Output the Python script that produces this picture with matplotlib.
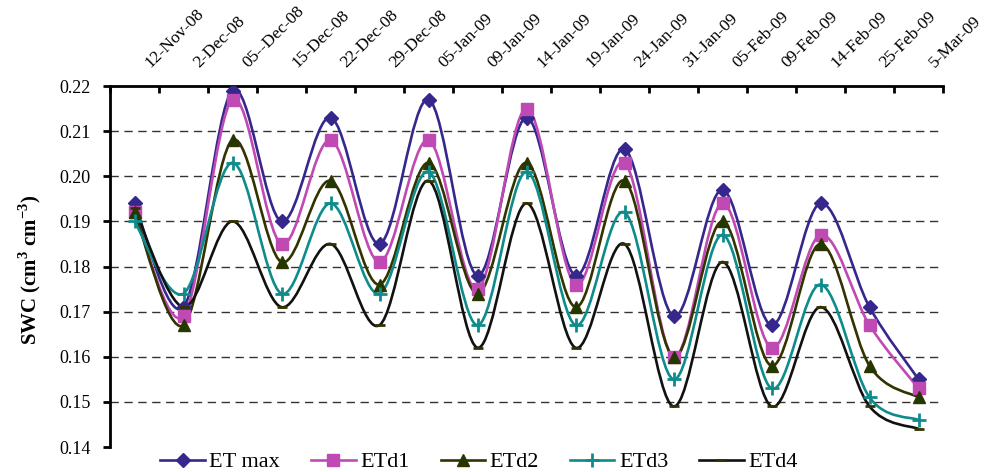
#!/usr/bin/env python3

import numpy as np
import matplotlib
matplotlib.use("Agg")
import matplotlib.pyplot as plt
from matplotlib.path import Path
from matplotlib.patches import PathPatch
from matplotlib.lines import Line2D
from matplotlib.transforms import ScaledTranslation

plt.rcParams['font.family'] = ['Liberation Serif', 'DejaVu Serif']
plt.rcParams['mathtext.fontset'] = 'custom'
plt.rcParams['mathtext.rm'] = 'Liberation Serif:bold'
plt.rcParams['mathtext.bf'] = 'Liberation Serif:bold'

dates = ["12-Nov-08", "2-Dec-08", "05--Dec-08", "15-Dec-08", "22-Dec-08",
         "29-Dec-08", "05-Jan-09", "09-Jan-09", "14-Jan-09", "19-Jan-09",
         "24-Jan-09", "31-Jan-09", "05-Feb-09", "09-Feb-09", "14-Feb-09",
         "25-Feb-09", "5-Mar-09"]

et_max = [0.194, 0.171, 0.219, 0.190, 0.213, 0.185, 0.217, 0.178, 0.213,
          0.178, 0.206, 0.169, 0.197, 0.167, 0.194, 0.171, 0.155]
etd1 = [0.192, 0.169, 0.217, 0.185, 0.208, 0.181, 0.208, 0.175, 0.215,
        0.176, 0.203, 0.160, 0.194, 0.162, 0.187, 0.167, 0.153]
etd2 = [0.192, 0.167, 0.208, 0.181, 0.199, 0.176, 0.203, 0.174, 0.203,
        0.171, 0.199, 0.160, 0.190, 0.158, 0.185, 0.158, 0.151]
etd3 = [0.190, 0.174, 0.203, 0.174, 0.194, 0.174, 0.201, 0.167, 0.201,
        0.167, 0.192, 0.155, 0.187, 0.153, 0.176, 0.151, 0.146]
etd4 = [0.193, 0.171, 0.190, 0.171, 0.185, 0.167, 0.199, 0.162, 0.194,
        0.162, 0.185, 0.149, 0.181, 0.149, 0.171, 0.149, 0.144]

names = ["ET max", "ETd1", "ETd2", "ETd3", "ETd4"]


def smooth_path(x, y):
    # Catmull-Rom style bezier, like Excel's smoothed lines
    pts = np.column_stack([x, y])
    n = len(pts)
    verts = [pts[0]]
    codes = [Path.MOVETO]
    for i in range(n - 1):
        p0 = pts[max(i - 1, 0)]
        p1 = pts[i]
        p2 = pts[i + 1]
        p3 = pts[min(i + 2, n - 1)]
        c1 = p1 + (p2 - p0) / 6.0
        c2 = p2 - (p3 - p1) / 6.0
        verts += [c1, c2, p2]
        codes += [Path.CURVE4] * 3
    return Path(verts, codes)


def main():
    fig = plt.figure(figsize=(9.93, 4.72), dpi=100)
    ax = fig.add_axes([110 / 993, 25 / 472, 833 / 993, 361 / 472])

    x = np.arange(len(dates))
    series = [et_max, etd1, etd2, etd3, etd4]
    colors = ["#35278C", "#C04AB4", "#333300", "#0E8C8C", "#111111"]
    markers = ["D", "s", "^", "+", "_"]
    msizes = [7, 8, 9, 10, 7]
    mfc = ["#35278C", "#C04AB4", "#1E3A00", "#0E8C8C", "#333300"]
    mec = ["#35278C", "#C04AB4", "#333300", "#0E8C8C", "#333300"]

    for s, c, m, ms, fc, ec in zip(series, colors, markers, msizes, mfc, mec):
        ax.add_patch(PathPatch(smooth_path(x, s), fill=False, edgecolor=c,
                               lw=1.9, zorder=3))
        ax.plot(x, s, linestyle='none', marker=m, ms=ms, mfc=fc, mec=ec,
                mew=2 if m in "+_" else 1, zorder=4)

    ax.set_xlim(-0.5, len(dates) - 0.5)
    ax.set_ylim(0.14, 0.22)

    # grid
    for g in [0.15, 0.16, 0.17, 0.18, 0.19, 0.20, 0.21]:
        ax.axhline(g, color="#333333", lw=1.0, dashes=(6, 4), zorder=1)

    ax.spines['right'].set_visible(False)
    ax.spines['bottom'].set_visible(False)
    ax.spines['left'].set_linewidth(2)
    ax.spines['top'].set_linewidth(2)

    ax.set_yticks([0.14, 0.15, 0.16, 0.17, 0.18, 0.19, 0.20, 0.21, 0.22])
    ax.set_yticklabels(["%.2f" % v for v in ax.get_yticks()], fontsize=13)
    ax.tick_params(axis='y', direction='out', length=5, width=2, pad=9)

    ax.xaxis.tick_top()
    ax.set_xticks(np.arange(len(dates) + 1) - 0.5)
    ax.set_xticklabels([])
    ax.tick_params(axis='x', which='major', direction='in', length=5, width=2)

    # date labels, rotated, above the top axis
    off = ScaledTranslation(0.16, 0.18, fig.dpi_scale_trans)
    for i, d in enumerate(dates):
        ax.text(i, 1, d, transform=ax.get_xaxis_transform() + off,
                rotation=45, rotation_mode='anchor', ha='left',
                va='baseline', fontsize=12.5, clip_on=False)

    fig.text(30 / 993, 1 - 270 / 472, r'SWC (cm$^{3}$ cm$^{-3}$)',
             rotation=90, ha='center', va='center', fontsize=15,
             fontweight='bold')

    handles = [Line2D([], [], color=c, lw=1.9, marker=m, ms=ms, mfc=fc,
                      mec=ec, mew=2 if m in "+_" else 1)
               for c, m, ms, fc, ec in zip(colors, markers, msizes, mfc, mec)]
    fig.legend(handles, names, loc='center', ncol=5,
               bbox_to_anchor=(479 / 993, 1 - 462 / 472), frameon=False,
               fontsize=16, handlelength=2.0, handletextpad=0.2,
               columnspacing=1.4, borderpad=0)

    fig.savefig("out.png", dpi=100)


if __name__ == "__main__":
    main()
